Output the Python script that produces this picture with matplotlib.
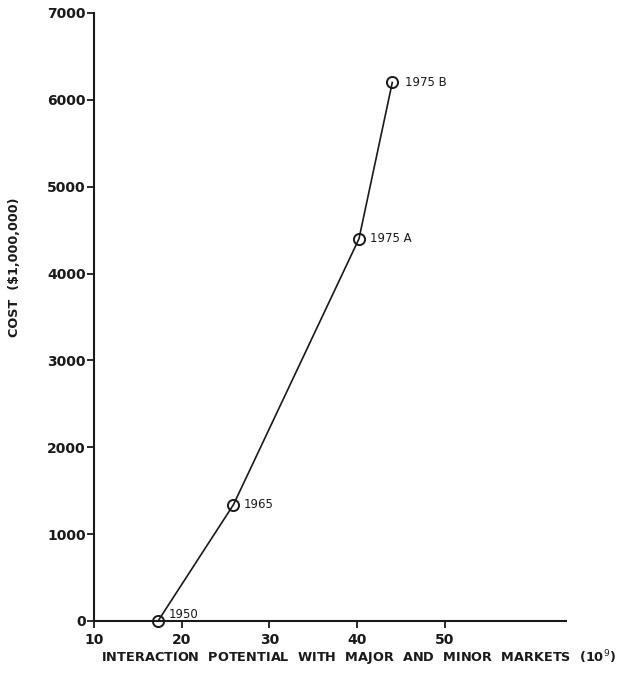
import matplotlib
matplotlib.use("Agg")
import matplotlib.pyplot as plt

# Data
years = ["1950", "1965", "1975 A", "1975 B"]
interaction = [17.3, 25.9, 40.2, 44.0]        # 10^9
cost = [0, 1340, 4400, 6200]                   # $1,000,000
label_offsets = [(8, 5), (7, 0), (8, 0), (9, 0)]  # points

x_ticks = [10, 20, 30, 40, 50]
y_ticks = [0, 1000, 2000, 3000, 4000, 5000, 6000, 7000]
x_tick_labels = ["10", "20", "30", "40", "50"]
y_tick_labels = ["0", "1000", "2000", "3000", "4000", "5000", "6000", "7000"]

W, H = 629, 681
fig = plt.figure(figsize=(W / 100, H / 100), dpi=100)
ax = fig.add_axes([94 / W, 1 - 621 / H, (566 - 94) / W, (621 - 13) / H])

ink = "#1a1a1a"
ax.plot(interaction, cost, color=ink, lw=1.2, zorder=2, clip_on=False)
ax.plot(interaction, cost, linestyle="none", marker="o", markersize=8,
        markerfacecolor="none", markeredgecolor=ink, markeredgewidth=1.4,
        zorder=3, clip_on=False)

for yr, x, y, (dx, dy) in zip(years, interaction, cost, label_offsets):
    ax.annotate(yr, (x, y), xytext=(dx, dy), textcoords="offset points",
                ha="left", va="center", fontsize=8.5, color=ink)

ax.set_xlim(10, 63.8)
ax.set_ylim(0, 7000)
ax.set_xticks(x_ticks)
ax.set_xticklabels(x_tick_labels)
ax.set_yticks(y_ticks)
ax.set_yticklabels(y_tick_labels)

for side in ["top", "right"]:
    ax.spines[side].set_visible(False)
for side in ["left", "bottom"]:
    ax.spines[side].set_linewidth(1.5)
    ax.spines[side].set_color(ink)

ax.tick_params(axis="both", direction="out", length=5, width=1.3, colors=ink,
               labelsize=10)
ax.tick_params(axis="y", pad=1)
ax.tick_params(axis="x", pad=4)
for lbl in ax.get_xticklabels() + ax.get_yticklabels():
    lbl.set_fontweight("bold")

fig.text(358 / W, 1 - 658 / H,
         "INTERACTION  POTENTIAL  WITH  MAJOR  AND  MINOR  MARKETS  (10$^{9}$)",
         ha="center", va="center", fontsize=9.3, fontweight="bold", color=ink)
fig.text(15 / W, 1 - 267 / H, "COST  (\\$1,000,000)", rotation=90,
         ha="center", va="center", fontsize=9.2, fontweight="bold", color=ink)

fig.savefig("out.png", dpi=100, facecolor="white")
